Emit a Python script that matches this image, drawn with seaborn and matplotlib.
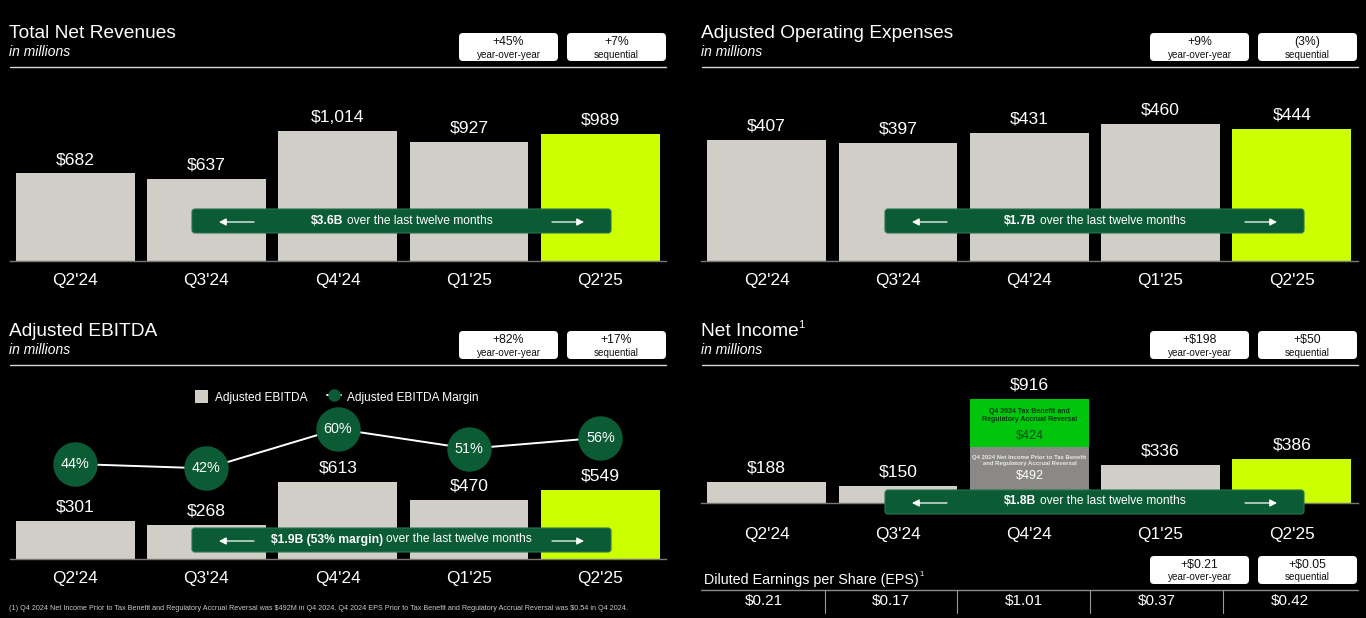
import numpy as np
import pandas as pd
import matplotlib.pyplot as plt
import seaborn as sns
from matplotlib.lines import Line2D
from matplotlib.patches import FancyBboxPatch, Patch

quarters = ["Q2'24", "Q3'24", "Q4'24", "Q1'25", "Q2'25"]
revenues = [682, 637, 1014, 927, 989]
opex = [407, 397, 431, 460, 444]
ebitda = [301, 268, 613, 470, 549]
margin = [44, 42, 60, 51, 56]
net_income = [188, 150, 492, 336, 386]
tax_benefit = [0, 0, 424, 0, 0]
eps = ["$0.21", "$0.17", "$1.01", "$0.37", "$0.42"]

BAR = "#d1cdc7"
LIME = "#ccff00"
DARK_GREEN = "#0b5c34"
BRIGHT_GREEN = "#00c50d"
MID_GRAY = "#8b8985"
W, H = 1366, 618

sns.set_theme(style="dark", rc={
    "figure.facecolor": "black", "axes.facecolor": "none",
    "text.color": "white", "axes.grid": False,
})
plt.rcParams["font.family"] = ["Liberation Sans", "DejaVu Sans"]

fig = plt.figure(figsize=(W / 100, H / 100), dpi=100, facecolor="black")
colors = [BAR, BAR, BAR, BAR, LIME]


def px_axes(left, right, top, bottom):
    return fig.add_axes([left / W, 1 - bottom / H, (right - left) / W, (bottom - top) / H])


# 1. Bar panels
def bar_panel(left, top, baseline, values, px_per_unit, tick_pad, totals=None):
    ax = px_axes(left, left + 656.5, top, baseline)
    df = pd.DataFrame({"quarter": quarters, "value": values})
    sns.barplot(data=df, x="quarter", y="value", hue="quarter", palette=colors,
                width=0.905, saturation=1, legend=False, ax=ax, linewidth=0)
    ax.set_xlim(-0.5, 4.5)
    ax.set_ylim(0, (baseline - top) / px_per_unit)
    ax.set_xlabel("")
    ax.set_ylabel("")
    ax.set_yticks([])
    ax.tick_params(axis="x", length=0, pad=tick_pad, labelsize=12.4, labelcolor="white")
    for side in ["top", "left", "right"]:
        ax.spines[side].set_visible(False)
    ax.spines["bottom"].set_color("#777772")
    ax.spines["bottom"].set_linewidth(1)
    for i, v in enumerate(totals if totals is not None else values):
        ax.annotate(f"${v:,}", (i, v), xytext=(0, 10), textcoords="offset points",
                    ha="center", va="center", fontsize=12.6, color="white")
    return ax


ax_rev = bar_panel(9.5, 70, 261, revenues, 0.1283, 9)
ax_opex = bar_panel(701, 70, 261, opex, 0.297, 9)
ax_ebitda = bar_panel(9.5, 368, 559, ebitda, 0.1256, 9)

totals = [a + b for a, b in zip(net_income, tax_benefit)]
ax_ni = bar_panel(701, 368, 503, net_income, 0.1135, 17, totals=totals)
sns.barplot(x=quarters, y=tax_benefit, bottom=net_income, color=BRIGHT_GREEN, width=0.905,
            saturation=1, ax=ax_ni, linewidth=0)
ax_ni.patches[2].set_facecolor(MID_GRAY)
ax_ni.set_ylim(0, (503 - 368) / 0.1135)

# 2. Margin line over the EBITDA bars
ax_m = ax_ebitda.twinx()
sns.lineplot(x=np.arange(len(quarters)), y=margin, color="white", linewidth=1.4, marker="o",
             markersize=32, markerfacecolor=DARK_GREEN, markeredgewidth=0, ax=ax_m)
ax_m.set_ylim(44 - (559 - 464) / 2.19, 44 + (464 - 368) / 2.19)
ax_m.set_yticks([])
ax_m.set_xlim(-0.5, 4.5)
for side in ax_m.spines:
    ax_m.spines[side].set_visible(False)
for i, m in enumerate(margin):
    ax_m.text(i, m, f"{m}%", ha="center", va="center", fontsize=10.4, color="white")

ax_ebitda.legend(
    handles=[Patch(facecolor=BAR, edgecolor="none", label="Adjusted EBITDA"),
             Line2D([0], [0], color="white", lw=1.4, marker="o", markersize=9,
                    markerfacecolor=DARK_GREEN, markeredgewidth=0,
                    label="Adjusted EBITDA Margin")],
    loc="center", bbox_to_anchor=((336.5 - 9) / 657, (559 - 397) / 191), ncol=2, frameon=False,
    fontsize=8.6, labelcolor="white", handlelength=1.1, handleheight=1.2, handletextpad=0.55,
    columnspacing=1.7, borderpad=0)

# 3. Overlay in pixel coords for headers, callouts and banners
ov = fig.add_axes([0, 0, 1, 1], zorder=10)
ov.set_xlim(0, W)
ov.set_ylim(H, 0)
ov.axis("off")


def pills(pill_x, y, pill_a, pill_b):
    for k, (val, lab) in enumerate([(pill_a, "year-over-year"), (pill_b, "sequential")]):
        x0 = pill_x + k * 108
        ov.add_patch(FancyBboxPatch((x0 + 3, y + 3), 93, 22, boxstyle="round,pad=3,rounding_size=4",
                                    fc="white", ec="none"))
        ov.text(x0 + 49.5, y + 9, val, fontsize=8.8, color="#111111", ha="center", va="center")
        ov.text(x0 + 49.5, y + 21.5, lab, fontsize=7.1, color="#111111", ha="center", va="center")


def header(x, y, title, subtitle, pill_x, pill_a, pill_b):
    ov.text(x, y + 2, title, fontsize=13.8, va="center", ha="left")
    ov.text(x, y + 20.5, subtitle, fontsize=10, style="italic", va="center", ha="left")
    ov.plot([x + 0.5, x + 656.5], [y + 36, y + 36], color="#d8d8d8", lw=1)
    pills(pill_x, y + 2, pill_a, pill_b)


header(9, 31, "Total Net Revenues", "in millions", 459, "+45%", "+7%")
header(701, 31, "Adjusted Operating Expenses", "in millions", 1150, "+9%", "(3%)")
header(9, 329, "Adjusted EBITDA", "in millions", 459, "+82%", "+17%")
header(701, 329, "Net Income", "in millions", 1150, "+$198", "+$50")
ov.text(798.5, 324.5, "1", fontsize=8, va="center", ha="left")


def banner(x0, y0, bold, rest, bold_x, rest_x):
    ov.add_patch(FancyBboxPatch((x0 + 2, y0 + 2), 415, 20, boxstyle="round,pad=2,rounding_size=3",
                                fc=DARK_GREEN, ec="#2a7350", lw=0.8))
    ov.text(bold_x, y0 + 11.5, bold, fontsize=8.75, fontweight="bold", va="center", ha="left")
    ov.text(rest_x, y0 + 11.5, rest, fontsize=8.65, va="center", ha="left")
    arrow = dict(arrowstyle="-|>,head_length=0.35,head_width=0.18", color="white", lw=0.9,
                 shrinkA=0, shrinkB=0)
    ov.annotate("", (x0 + 27, y0 + 13), (x0 + 62, y0 + 13), arrowprops=arrow)
    ov.annotate("", (x0 + 392, y0 + 13), (x0 + 360, y0 + 13), arrowprops=arrow)


banner(192, 209, "$3.6B", "over the last twelve months", 311, 347)
banner(885, 209, "$1.7B", "over the last twelve months", 1004, 1040)
banner(192, 528, "$1.9B (53% margin)", "over the last twelve months", 271, 386)
banner(885, 490, "$1.8B", "over the last twelve months", 1004, 1040)

# 4. Text inside the stacked Q4 bar
cx = 1029.5
ov.text(cx, 415.5, "Q4 2024 Tax Benefit and\nRegulatory Accrual Reversal", fontsize=5, fontweight="bold",
        color="#0a3a10", ha="center", va="center", linespacing=1.25)
ov.text(cx, 436, "$424", fontsize=9, color="#0a4a14", ha="center", va="center")
ov.text(cx, 460.5, "Q4 2024 Net Income Prior to Tax Benefit\nand Regulatory Accrual Reversal", fontsize=4.35,
        fontweight="bold", color="#e8e8e8", ha="center", va="center", linespacing=1.15)
ov.text(cx, 476, "$492", fontsize=9, color="white", ha="center", va="center")

# 5. EPS strip and footnote
ov.text(704, 580, "Diluted Earnings per Share (EPS)", fontsize=10.25, va="center", ha="left")
ov.text(919, 574.5, "1", fontsize=5.5, va="center", ha="left")
pills(1150, 556, "+$0.21", "+$0.05")
ov.plot([701, 1357.5], [590, 590], color="#8a8a8a", lw=1)
for x in [825, 957, 1090, 1223]:
    ov.plot([x, x], [590, 613], color="#9a9a9a", lw=0.8)
for x, s in zip([764, 891, 1024, 1157, 1290], eps):
    ov.text(x, 601, s, fontsize=11, ha="center", va="center")

ov.text(9, 609, r"(1) Q4 2024 Net Income Prior to Tax Benefit and Regulatory Accrual Reversal was \$492M in Q4 2024. "
        r"Q4 2024 EPS Prior to Tax Benefit and Regulatory Accrual Reversal was \$0.54 in Q4 2024.",
        fontsize=5.2, color="#c8c8c8", ha="left", va="center")

fig.savefig("out.png", dpi=100, facecolor="black")
